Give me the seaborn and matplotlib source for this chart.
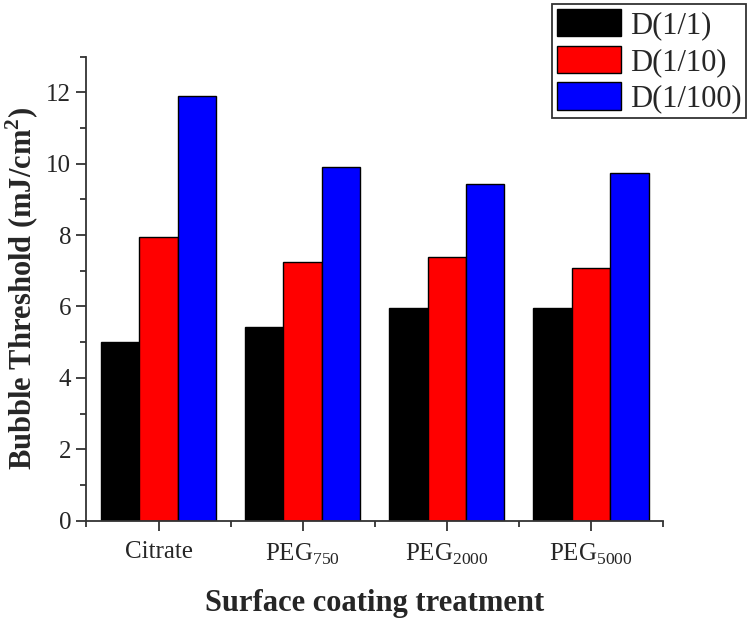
import numpy as np
import pandas as pd
import seaborn as sns
from matplotlib import pyplot as plt
from matplotlib.ticker import MultipleLocator

coatings = ["Citrate", "PEG$_{750}$", "PEG$_{2000}$", "PEG$_{5000}$"]
dilutions = ["D(1/1)", "D(1/10)", "D(1/100)"]
d_1 = [5.0, 5.42, 5.97, 5.97]
d_10 = [7.95, 7.25, 7.40, 7.07]
d_100 = [11.9, 9.91, 9.42, 9.74]
colors = ["#000000", "#ff0000", "#0000ff"]

df = pd.DataFrame({
    "coating": coatings * 3,
    "dilution": np.repeat(dilutions, len(coatings)),
    "threshold": d_1 + d_10 + d_100,
})

sns.set_style("ticks")
plt.rcParams["font.family"] = ["Liberation Serif", "DejaVu Serif"]
plt.rcParams["mathtext.fontset"] = "custom"
plt.rcParams["mathtext.rm"] = "Liberation Serif"
plt.rcParams["mathtext.bf"] = "Liberation Serif:bold"

fig = plt.figure(figsize=(7.5, 6.23), dpi=100)
ax = fig.add_axes([0.1153, 0.1644, 0.7687, 0.7446])

sns.barplot(
    data=df,
    x="coating",
    y="threshold",
    hue="dilution",
    palette=colors,
    saturation=1,
    edgecolor="black",
    linewidth=1,
    width=0.8,
    gap=0,
    legend=False,
    ax=ax,
)

ax.set_xlim(-0.5, 3.5)
ax.set_ylim(0, 13)
ax.yaxis.set_major_locator(MultipleLocator(2))
ax.yaxis.set_minor_locator(MultipleLocator(1))
ax.set_xticks([-0.5, 0.5, 1.5, 2.5, 3.5], minor=True)
ax.tick_params(axis="both", which="major", direction="out", length=7, width=1.3,
               labelsize=18, color="#333333")
ax.tick_params(axis="both", which="minor", direction="out", length=4, width=1.3,
               color="#333333")
ax.tick_params(axis="x", pad=8)
ax.tick_params(axis="y", pad=4)
for side in ["top", "right"]:
    ax.spines[side].set_visible(False)
for side in ["left", "bottom"]:
    ax.spines[side].set_linewidth(1.3)
    ax.spines[side].set_color("#333333")

ax.set_xlabel("Surface coating treatment", fontsize=22, fontweight="bold", labelpad=16)
ax.set_ylabel("Bubble Threshold (mJ/cm$^{\\mathbf{2}}$)", fontsize=22,
              fontweight="bold", labelpad=4)

handles = [plt.Rectangle((0, 0), 1, 1, facecolor=c, edgecolor="black", linewidth=1)
           for c in colors]
leg = fig.legend(
    handles, dilutions,
    loc="upper right",
    bbox_to_anchor=(0.995, 0.993),
    fontsize=22,
    frameon=True,
    fancybox=False,
    edgecolor="#333333",
    framealpha=1,
    handlelength=2.1,
    handleheight=1.0,
    handletextpad=0.3,
    labelspacing=0.18,
    borderpad=0.15,
    borderaxespad=0,
)
leg.get_frame().set_linewidth(1.3)

fig.savefig("out.png", dpi=100)
